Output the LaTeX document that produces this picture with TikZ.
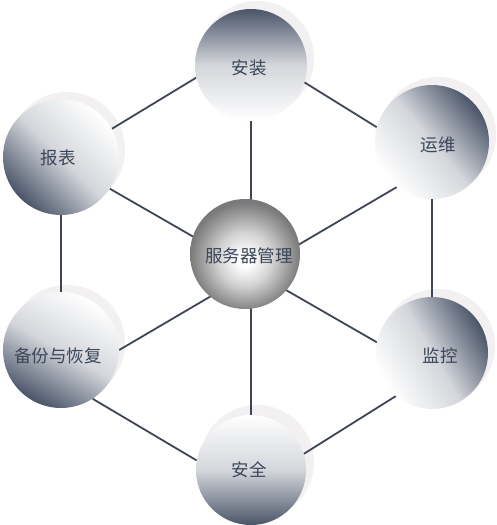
\documentclass[tikz,border=0pt]{standalone}
\usepackage{fontspec}
\setmainfont{Noto Sans CJK SC}
\definecolor{slate}{HTML}{4A5569}
\definecolor{linec}{HTML}{3E4656}
\definecolor{txtc}{HTML}{3C4659}
\definecolor{shadowc}{HTML}{F2F0F0}
\definecolor{ballA}{HTML}{D4D4D4}
\definecolor{ballB}{HTML}{9C9C9C}
\definecolor{ballC}{HTML}{7A7A7A}
\pgfdeclareradialshading{ballshade}{\pgfpoint{0bp}{-3bp}}{color(0bp)=(white); color(3bp)=(white); color(12bp)=(ballA); color(20bp)=(ballB); color(25bp)=(ballC); color(50bp)=(ballC)}
\pgfdeclarelayer{bg}
\pgfsetlayers{bg,main}
\tikzset{
  orb/.style={circle, inner sep=0pt, minimum size=#1, top color=slate, bottom color=white, middle color=slate!24!white},
  ballnode/.style={circle, inner sep=0pt, minimum size=110pt, shading=ballshade},
  conn/.style={draw=linec, line width=1.8pt},
  lbl/.style={text=txtc, font=\fontsize{17.5pt}{20pt}\selectfont, inner sep=0pt},
  shadowfill/.style={fill=shadowc}
}
\begin{document}
\begin{tikzpicture}[x=1pt,y=-1pt]
\useasboundingbox (0,0) rectangle (497,525);
% outer circles
\node[orb=112pt, shading angle=0] (a) at (251,65) {};
\node[orb=114pt, shading angle=-50] (b) at (432,142) {};
\node[orb=112pt, shading angle=-60] (d) at (432,353) {};
\node[orb=110pt, shading angle=180] (e) at (251,470) {};
\node[orb=116pt, shading angle=150] (f) at (61,350) {};
\node[orb=116pt, shading angle=135] (g) at (61,157) {};
\node[ballnode] (c) at (245,254) {};
\begin{pgfonlayer}{bg}
  \fill[white] (0,0) rectangle (497,525);
  \fill[shadowfill] ([shift={(6,-7)}]a.center) circle[radius=57pt];
  \fill[shadowfill] ([shift={(6,-7)}]b.center) circle[radius=58pt];
  \fill[shadowfill] ([shift={(6,-7)}]d.center) circle[radius=57pt];
  \fill[shadowfill] ([shift={(6,-8)}]e.center) circle[radius=57pt];
  \fill[shadowfill] ([shift={(6,-7)}]f.center) circle[radius=58pt];
  \fill[shadowfill] ([shift={(6,-7)}]g.center) circle[radius=58pt];
  % hexagon edges
  \draw[conn] (g.29) -- (a.193);
  \draw[conn] (a.-18) -- (b.165);
  \draw[conn] (b.south) -- (d.north);
  \draw[conn] (d.230) -- (e.17);
  \draw[conn] (e.170) -- (f.-57);
  \draw[conn] (f.north) -- (g.south);
  % spokes
  \draw[conn] (a.south) -- (e.north);
  \draw[conn] (b.232) -- (f.0);
  \draw[conn] (g.-33) -- (d.169);
\end{pgfonlayer}
% labels
\node[lbl] (ta) at (249,68) {安装};
\node[lbl] (tb) at (438,145) {运维};
\node[lbl] (td) at (440,356) {监控};
\node[lbl] (te) at (249,470) {安全};
\node[lbl] (tf) at (58,356) {备份与恢复};
\node[lbl] (tg) at (58,158) {报表};
\node[lbl] (tc) at (249,256) {服务器管理};
\end{tikzpicture}
\end{document}
